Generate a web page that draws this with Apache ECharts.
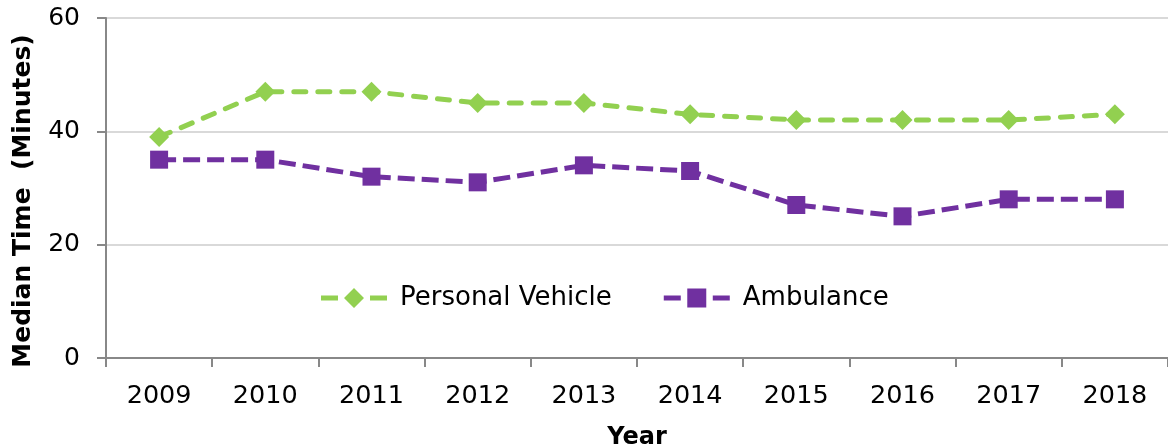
<!DOCTYPE html>
<html>
<head>
<meta charset="utf-8">
<script src="https://cdn.jsdelivr.net/npm/echarts@6/dist/echarts.min.js"></script>
<style>
html,body{margin:0;padding:0;background:#fff;}
#chart{width:1168px;height:446px;}
</style>
</head>
<body>
<div id="chart"></div>
<script>
const years = ['2009','2010','2011','2012','2013','2014','2015','2016','2017','2018'];
const personalVehicle = [39, 47, 47, 45, 45, 43, 42, 42, 42, 43];
const ambulance = [35, 35, 32, 31, 34, 33, 27, 25, 28, 28];
const yTicks = [0, 20, 40, 60];

const FONT = '"DejaVu Sans", Verdana, sans-serif';
// legend icons: dash - marker - dash
const iconDiamond = 'path://M0,7.5 L17,7.5 L17,12.5 L0,12.5 Z M33,0 L43,10 L33,20 L23,10 Z M49,7.5 L66,7.5 L66,12.5 L49,12.5 Z';
const iconSquare = 'path://M0,7.5 L17,7.5 L17,12.5 L0,12.5 Z M23.5,0.5 L42.5,0.5 L42.5,19.5 L23.5,19.5 Z M49,7.5 L66,7.5 L66,12.5 L49,12.5 Z';

const chart = echarts.init(document.getElementById('chart'));
chart.setOption({
  animation: false,
  backgroundColor: '#fff',
  grid: { left: 106, right: 0, top: 18, bottom: 88, outerBoundsMode: 'none', containLabel: false },
  legend: {
    data: [
      { name: 'Personal Vehicle', icon: iconDiamond },
      { name: 'Ambulance', icon: iconSquare }
    ],
    left: 316, top: 280,
    itemWidth: 66, itemHeight: 20, itemGap: 52,
    textStyle: { fontFamily: FONT, fontSize: 26, color: '#000', padding: [0,0,0,8] }
  },
  xAxis: {
    type: 'category',
    data: years,
    boundaryGap: true,
    name: 'Year',
    nameLocation: 'middle',
    nameGap: 68,
    nameTextStyle: { fontFamily: FONT, fontSize: 24, fontWeight: 'bold', color: '#000' },
    axisLine: { lineStyle: { color: '#888', width: 2 } },
    axisTick: { show: true, length: 9, lineStyle: { color: '#888', width: 2 } },
    axisLabel: { fontFamily: FONT, fontSize: 25.5, color: '#000', margin: 25 },
    splitLine: { show: false }
  },
  yAxis: {
    type: 'value',
    min: yTicks[0], max: yTicks[yTicks.length-1], interval: 20,
    name: 'Median Time  (Minutes)',
    nameLocation: 'middle',
    nameRotate: 90,
    nameGap: 70,
    nameTextStyle: { fontFamily: FONT, fontSize: 25, fontWeight: 'bold', color: '#000', padding: [0, 26, 0, 0] },
    axisLine: { show: true, lineStyle: { color: '#888', width: 2 } },
    axisTick: { show: true, length: 9, lineStyle: { color: '#888', width: 2 } },
    axisLabel: { fontFamily: FONT, fontSize: 25, color: '#000', margin: 26 },
    splitLine: { show: true, lineStyle: { color: '#d9d9d9', width: 2 } }
  },
  series: [
    {
      name: 'Personal Vehicle',
      type: 'line',
      data: personalVehicle,
      symbol: 'diamond',
      symbolSize: 20,
      itemStyle: { color: '#92D050' },
      lineStyle: { color: '#92D050', width: 5, type: [12, 12], cap: 'round' }
    },
    {
      name: 'Ambulance',
      type: 'line',
      data: ambulance,
      symbol: 'rect',
      symbolSize: 18,
      itemStyle: { color: '#7030A0' },
      lineStyle: { color: '#7030A0', width: 5, type: [17, 7] }
    }
  ]
});
</script>
</body>
</html>
